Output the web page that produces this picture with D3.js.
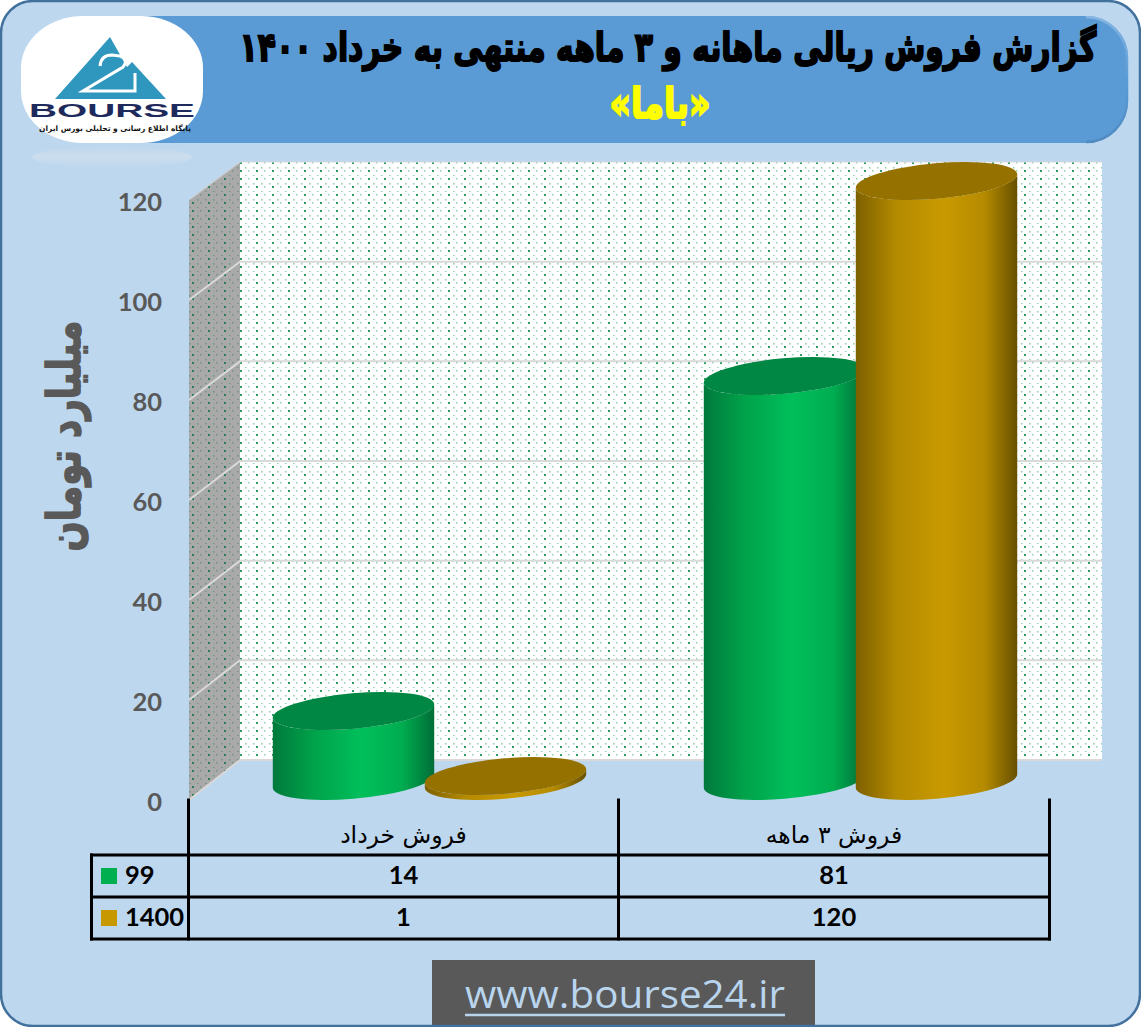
<!DOCTYPE html>
<html><head><meta charset="utf-8">
<style>html,body{margin:0;padding:0;background:#fff}svg{display:block}
text{font-family:"Lato","Open Sans",sans-serif}
.fa{font-family:"DejaVu Sans",sans-serif;direction:rtl;unicode-bidi:embed}</style>
<script src="https://cdnjs.cloudflare.com/ajax/libs/d3/7.8.5/d3.min.js"></script>
</head><body><script>
const categories = ["فروش خرداد","فروش ۳ ماهه"];
const seriesNames = ["99","1400"];
const values99 = [14,81];
const values1400 = [1,120];
const yTicks = [0,20,40,60,80,100,120];
const titleLine1 = "گزارش فروش ریالی ماهانه و ۳ ماهه منتهی به خرداد ۱۴۰۰";
const titleLine2 = "«باما»";
const yTitle = "میلیارد تومان";
const siteUrl = "www.bourse24.ir";
const seriesValues = [values99, values1400];
const seriesFill = ["#00b050","#c89800"];
const ramps = [["#00793c","#00a24a","#00bf5b","#00ad50","#006d37"],["#7d6000","#b48a00","#c99a00","#b48a00","#665000"]];
const topFill = ["#008743","#957100"];

const W=1141,H=1027;
const svg=d3.select("body").append("svg").attr("width",W).attr("height",H);
const defs=svg.append("defs");

// squeeze a text horizontally so that it spans the wanted width
function fitWidth(sel,cx,y,width,rotate){
  sel.attr("x",0).attr("y",0);
  const len=sel.node().getComputedTextLength();
  sel.attr("transform",`translate(${cx},${y})${rotate?` rotate(${rotate})`:""} scale(${width/len},1)`);
  return sel;
}

ramps.forEach((r,i)=>{
  const g=defs.append("linearGradient").attr("id","cyl"+i).attr("x1",0).attr("x2",1).attr("y1",0).attr("y2",0);
  [0,.25,.55,.8,1].forEach((o,k)=>g.append("stop").attr("offset",o).attr("stop-color",r[k]));
});
function dots(id,bg,dark,light){
  const p=defs.append("pattern").attr("id",id).attr("patternUnits","userSpaceOnUse").attr("width",16).attr("height",16);
  p.append("rect").attr("width",16).attr("height",16).attr("fill",bg);
  [[0,2],[8,2],[5,7],[13,7],[0,10],[8,10],[5,15],[13,15]].forEach((d,i)=>{
    const strong=(i%4===0);
    p.append("rect").attr("x",d[0]).attr("y",d[1]).attr("width",strong?2:1.5).attr("height",strong?2:1.5)
     .attr("fill",strong?dark:light);
  });
}
dots("wallDots","#ffffff","#2f9e63","#8fd0ad");
dots("sideDots","#a9a9a9","#2c7d55","#6f9682");
const bannerEdge=defs.append("linearGradient").attr("id","bannerEdge").attr("x1",0).attr("x2",0).attr("y1",0).attr("y2",1);
bannerEdge.append("stop").attr("offset",0).attr("stop-color","#85b5e2");
bannerEdge.append("stop").attr("offset",.5).attr("stop-color","#5b9bd5");
bannerEdge.append("stop").attr("offset",1).attr("stop-color","#4f8ac0");
const logoG=defs.append("radialGradient").attr("id","logoG").attr("r",.72);
logoG.append("stop").attr("offset",.8).attr("stop-color","#ffffff");
logoG.append("stop").attr("offset",1).attr("stop-color","#c9c9c9");
const refl=defs.append("linearGradient").attr("id","refl").attr("x1",0).attr("x2",0).attr("y1",0).attr("y2",1);
refl.append("stop").attr("offset",0).attr("stop-color","#dfe6ee").attr("stop-opacity",.0);
refl.append("stop").attr("offset",.5).attr("stop-color","#dfe6ee").attr("stop-opacity",.4);
refl.append("stop").attr("offset",1).attr("stop-color","#dfe6ee").attr("stop-opacity",0);

svg.append("rect").attr("x",1).attr("y",1).attr("width",W-2).attr("height",H-2).attr("rx",32).attr("fill","#bdd7ee");

svg.append("path").attr("d","M100,16 H1086 A42,42 0 0 1 1128,58 V101 A42,42 0 0 1 1086,143 H100 Z").attr("fill","#5b9bd5");
svg.append("path").attr("d","M1086,17 A41,41 0 0 1 1127,58 V101 A41,41 0 0 1 1086,142")
  .attr("fill","none").attr("stroke","url(#bannerEdge)").attr("stroke-width",2.5);

fitWidth(svg.append("text").attr("class","fa").attr("text-anchor","middle")
  .attr("font-size",40).attr("font-weight",700).attr("fill","#000").attr("stroke","#000").attr("stroke-width",1.9)
  .text(titleLine1),668,61,857);
fitWidth(svg.append("text").attr("class","fa").attr("text-anchor","middle")
  .attr("font-size",42).attr("font-weight",700).attr("fill","#ffff00").attr("stroke","#ffff00").attr("stroke-width",2)
  .text(titleLine2),660,118,101);

// logo
svg.append("ellipse").attr("cx",112).attr("cy",157).attr("rx",80).attr("ry",11).attr("fill","url(#refl)");
svg.append("rect").attr("x",21).attr("y",16).attr("width",182).attr("height",127).attr("rx",62).attr("ry",52).attr("fill","url(#logoG)");
const logo=svg.append("g");
logo.append("path").attr("d","M110,37 L55,99 H166 L132,62 L127,67 Z").attr("fill","#2f97bd");
logo.append("path").attr("d","M100,66 Q101,55 112,55 L120,56 Q129,59 123,67 L83,91 H135 V73")
  .attr("fill","none").attr("stroke","#fff").attr("stroke-width",3);
fitWidth(logo.append("text").style("font-family","'Liberation Sans',sans-serif").attr("text-anchor","middle")
  .attr("font-size",19).attr("font-weight",700).attr("fill","#1f2a5c").text("BOURSE"),112,117,166);
logo.append("text").attr("class","fa").attr("x",115).attr("y",131).attr("text-anchor","middle")
  .attr("font-size",7.5).attr("font-weight",700).attr("fill","#111").text("پایگاه اطلاع رسانی و تحلیلی بورس ایران");

// 3D box
const floorY=760, frontY=800, wallL=189, wallR=240, wallEnd=1102;
const yFront=d3.scaleLinear().domain([0,120]).range([frontY,200]);
const yBack=d3.scaleLinear().domain([0,120]).range([floorY,162]);
const yBase=d3.scaleLinear().domain([0,120]).range([781,181]);
svg.append("rect").attr("x",wallR).attr("y",yBack(120)).attr("width",wallEnd-wallR).attr("height",floorY-yBack(120)).attr("fill","url(#wallDots)");
svg.append("path").attr("d",`M${wallL},${yFront(0)} L${wallR},${yBack(0)} V${yBack(120)} L${wallL},${yFront(120)} Z`).attr("fill","url(#sideDots)");
const grid=svg.append("g").attr("fill","none").attr("stroke","#d9d9d9").attr("stroke-width",2);
grid.selectAll("path").data(yTicks).join("path")
  .attr("stroke-opacity",v=>v===120?0.45:1)
  .attr("d",v=>`M${wallL},${yFront(v)} L${wallR},${yBack(v)} H${wallEnd}`);

const axis=svg.append("g").attr("transform","translate(169,2)")
  .call(d3.axisLeft(yFront).tickValues(yTicks).tickSize(0).tickPadding(7).tickFormat(d3.format("d")));
axis.select(".domain").remove();
axis.selectAll("text").attr("font-family","Lato,sans-serif").attr("font-size",25.5).attr("font-weight",700).attr("fill","#595959");

fitWidth(svg.append("text").attr("class","fa").attr("text-anchor","middle")
  .attr("font-size",46).attr("font-weight",700).attr("fill","#595959").attr("stroke","#595959").attr("stroke-width",1.6)
  .text(yTitle),80,436,231,-90);

// cylinders
const x0=d3.scaleBand().domain(categories).range([214,1076]);
const x1=d3.scaleBand().domain(seriesNames).range([-152,152]);
const a=81,b=17.7,th=-5*Math.PI/180;
const t=Math.atan(-(b/a)*Math.tan(th));
const tx=a*Math.cos(t)*Math.cos(th)-b*Math.sin(t)*Math.sin(th);
const ty=a*Math.cos(t)*Math.sin(th)+b*Math.sin(t)*Math.cos(th);
const rot=th*180/Math.PI;
const marks=svg.append("g");
categories.forEach((c,ci)=>{
  seriesNames.forEach((s,si)=>{
    const v=seriesValues[si][ci];
    const cx=x0(c)+x0.bandwidth()/2+x1(s)+x1.bandwidth()/2;
    const by=yBase(0), ey=yBase(v);
    const g=marks.append("g");
    g.append("path").attr("d",
      `M${cx-tx},${ey-ty} L${cx-tx},${by-ty} A${a},${b} ${rot} 0 0 ${cx+tx},${by+ty} L${cx+tx},${ey+ty} A${a},${b} ${rot} 0 1 ${cx-tx},${ey-ty} Z`)
      .attr("fill",`url(#cyl${si})`);
    g.append("ellipse").attr("cx",0).attr("cy",0).attr("rx",a).attr("ry",b)
      .attr("transform",`translate(${cx},${ey}) rotate(${rot})`).attr("fill",topFill[si]);
  });
});

// data table
const colX=[91.5,188.5,618.5,1049.5], rowY=[855,897,939];
const tbl=svg.append("g");
const lines=[
 [colX[0],rowY[0],colX[3],rowY[0]],[colX[0],rowY[1],colX[3],rowY[1]],[colX[0],rowY[2],colX[3],rowY[2]],
 [colX[0],rowY[0],colX[0],rowY[2]],[colX[1],800,colX[1],rowY[2]],[colX[2],800,colX[2],rowY[2]],[colX[3],800,colX[3],rowY[2]]
];
tbl.selectAll("line").data(lines).join("line")
  .attr("x1",d=>d[0]).attr("y1",d=>d[1]).attr("x2",d=>d[2]).attr("y2",d=>d[3])
  .attr("stroke","#000").attr("stroke-width",3).attr("stroke-linecap","square");
const cellX=[403.5,834];
tbl.selectAll(".hdr").data(categories).join("text").attr("class","fa hdr")
  .attr("x",(d,i)=>cellX[i]).attr("y",843).attr("text-anchor","middle").attr("font-size",23.5).attr("fill","#000").text(d=>d);
seriesNames.forEach((s,si)=>{
  const mid=(rowY[si]+rowY[si+1])/2;
  tbl.append("rect").attr("x",101).attr("y",mid-8).attr("width",16).attr("height",16).attr("fill",seriesFill[si]);
  tbl.append("text").attr("x",125).attr("y",mid+8).attr("font-size",25.5).attr("font-weight",700).attr("fill","#000").text(s);
  seriesValues[si].forEach((v,ci)=>{
    tbl.append("text").attr("x",cellX[ci]).attr("y",mid+8).attr("text-anchor","middle")
      .attr("font-size",25.5).attr("font-weight",700).attr("fill","#000").text(v);
  });
});

// footer
svg.append("rect").attr("x",432).attr("y",960).attr("width",383).attr("height",67).attr("fill","#595959");
fitWidth(svg.append("text").style("font-family","'Open Sans',sans-serif").attr("text-anchor","middle").attr("font-size",38)
  .attr("fill","#b9d5ee").text(siteUrl),625,1008,320);
svg.append("line").attr("x1",465).attr("x2",785).attr("y1",1015).attr("y2",1015).attr("stroke","#b9d5ee").attr("stroke-width",2.5);

svg.append("rect").attr("x",1).attr("y",1).attr("width",W-2).attr("height",H-2).attr("rx",32)
  .attr("fill","none").attr("stroke","#41719c").attr("stroke-width",2.5);
</script></body></html>
